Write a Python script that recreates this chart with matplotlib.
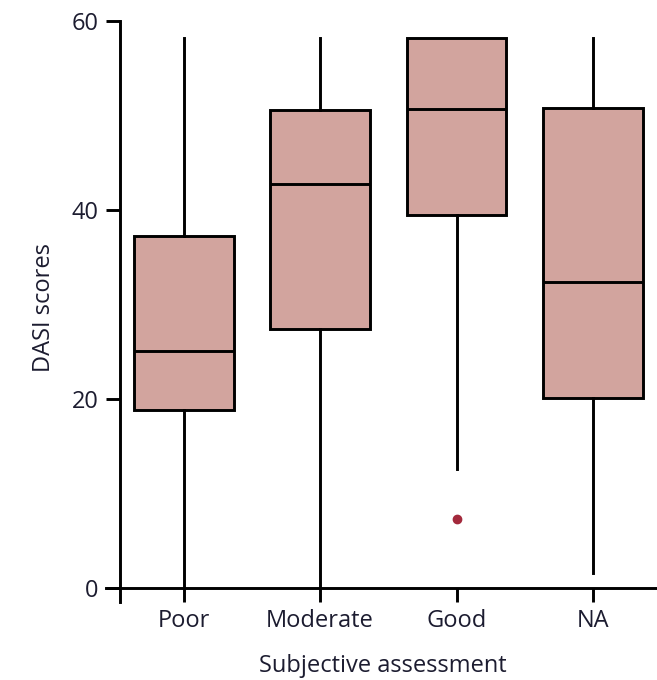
import matplotlib
matplotlib.use("Agg")
import matplotlib.pyplot as plt

# data
categories = ["Poor", "Moderate", "Good", "NA"]
whislo = [0.0, 0.0, 12.6, 1.6]
q1 = [18.8, 27.4, 39.4, 20.1]
med = [25.0, 42.7, 50.7, 32.4]
q3 = [37.2, 50.6, 58.2, 50.8]
whishi = [58.2, 58.2, 58.2, 58.2]
fliers = [[], [], [7.3], []]

plt.rcParams['font.family'] = ['Open Sans', 'DejaVu Sans']
txt = '#1c1c30'
fs = 17

fig = plt.figure(figsize=(6.57, 6.80), dpi=100)
ax = fig.add_axes([106/657, 1-602/680, 1-106/657, (602-20.7)/680])

stats = []
for i, c in enumerate(categories):
    stats.append(dict(label=c, whislo=whislo[i], q1=q1[i], med=med[i],
                      q3=q3[i], whishi=whishi[i], fliers=fliers[i]))

ax.bxp(stats, positions=range(1, 5), widths=0.73, patch_artist=True,
       showcaps=False,
       boxprops=dict(facecolor='#d2a49e', edgecolor='black', linewidth=2.1),
       medianprops=dict(color='black', linewidth=2.1),
       whiskerprops=dict(color='black', linewidth=2.1),
       flierprops=dict(marker='o', markerfacecolor='#a3293c',
                       markeredgecolor='#a3293c', markersize=6))

ax.set_xlim(0.43, 4.47)
ax.set_ylim(-1.51, 60)
ax.spines['top'].set_visible(False)
ax.spines['right'].set_visible(False)
ax.spines['bottom'].set_position(('data', 0))
ax.spines['left'].set_position(('data', 0.53))
for s in ('left', 'bottom'):
    ax.spines[s].set_linewidth(2.1)

ax.set_yticks([0, 20, 40, 60])
ax.set_xticks(range(1, 5))
ax.set_xticklabels(categories)
ax.tick_params(axis='both', direction='out', length=10, width=2.1,
               labelsize=fs, labelcolor=txt)
ax.tick_params(axis='y', pad=5)
ax.tick_params(axis='x', pad=5)

ax.set_ylabel('DASI scores', fontsize=fs, color=txt, va='baseline')
ax.set_xlabel('Subjective assessment', fontsize=fs, color=txt, va='baseline')
ax.yaxis.set_label_coords(-0.1016, 0.507)
ax.xaxis.set_label_coords(0.503, -0.1204)

fig.savefig('out.png', dpi=100)
